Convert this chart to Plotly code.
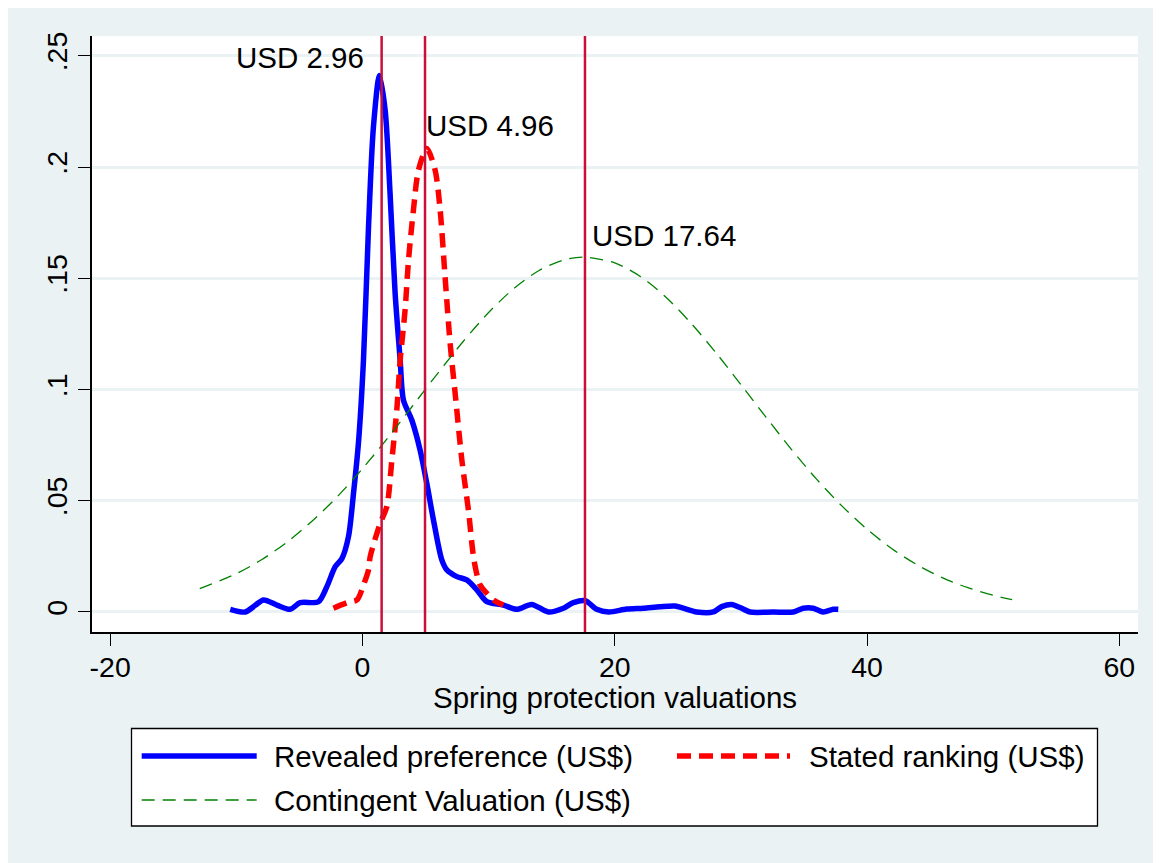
import plotly.graph_objects as go

# ---------------- data ----------------
revealed_x = [-10.48, -9.29, -8.5, -7.84, -6.78, -5.73, -4.94, -3.49, -2.82, -2.16, -1.63, -1.11,
              -0.71, -0.32, 0.08, 0.48, 0.87, 1.35, 1.80, 2.19, 2.59, 2.99, 3.25, 3.91, 4.57,
              5.10, 5.63, 6.29, 6.69, 7.48, 8.27, 9.07, 9.86, 11.17, 12.23, 13.42, 14.74, 15.93,
              16.72, 17.65, 18.57, 19.52, 20.95, 22.27, 23.59, 24.78, 25.44, 26.5, 27.81, 28.48,
              29.27, 29.93, 30.72, 32.57, 34.15, 34.94, 35.74, 36.53, 37.32, 37.72]
revealed_y = [0.0012, 0.0, 0.0030, 0.0054, 0.0031, 0.0012, 0.0042, 0.0046, 0.0114, 0.0204, 0.0240, 0.0338,
              0.0533, 0.0758, 0.1132, 0.1730, 0.2180, 0.2412, 0.2255, 0.1880, 0.1432, 0.1132, 0.0952, 0.0863, 0.0728,
              0.0578, 0.0413, 0.0234, 0.0189, 0.0159, 0.0144, 0.0099, 0.0046, 0.0031, 0.0012, 0.0034, 0.0, 0.0017,
              0.0042, 0.0051, 0.0012, 0.0, 0.0013, 0.0017, 0.0024, 0.0027, 0.0017, 0.0, 0.0, 0.0024,
              0.0034, 0.0020, 0.0, 0.0, 0.0, 0.0017, 0.0017, 0.0, 0.0012, 0.0012]

stated_x = [-2.30, -1.11, -0.44, 0.08, 0.48, 0.61, 1.40, 1.93, 2.33, 2.72, 2.99, 3.38, 3.65, 4.04,
            4.44, 5.10, 5.76, 6.16, 6.55, 6.95, 7.35, 7.88, 8.40, 8.85, 9.33, 9.86, 10.38, 11.17]
stated_y = [0.0017, 0.0044, 0.0054, 0.0121, 0.0189, 0.0248, 0.0398, 0.0473, 0.0683, 0.0907, 0.1132, 0.1357, 0.1581, 0.1806,
            0.1986, 0.2083, 0.1986, 0.1806, 0.1506, 0.1207, 0.0982, 0.0683, 0.0458, 0.0230, 0.0121, 0.0084, 0.0054, 0.0031]

contingent_x = [-12.9, -10, -8, -6, -4, -2, 0, 2, 4, 6, 8, 10, 12, 14, 16, 17.64, 20, 22, 24, 26,
                28, 30, 32, 34, 36, 38, 40, 42, 44, 46, 48, 50, 51.5]
contingent_y = [0.0105, 0.0172, 0.0235, 0.0313, 0.0408, 0.0518, 0.0644, 0.0782, 0.0928, 0.1075, 0.1217,
                0.1346, 0.1454, 0.1535, 0.1583, 0.1595, 0.1569, 0.1509, 0.1418, 0.1301, 0.1167, 0.1022,
                0.0875, 0.0731, 0.0597, 0.0477, 0.0372, 0.0283, 0.0211, 0.0153, 0.0109, 0.0075, 0.0056]

vline_x = [1.52, 4.96, 17.64]
label_text = ["USD 2.96", "USD 4.96", "USD 17.64"]
label_x = [0.3, 4.85, 18.05]
label_y = [0.2491, 0.2188, 0.1691]

x_ticks = [-20, 0, 20, 40, 60]
x_tick_labels = ["-20", "0", "20", "40", "60"]
y_ticks = [0, 0.05, 0.1, 0.15, 0.2, 0.25]
y_tick_labels = ["0", ".05", ".1", ".15", ".2", ".25"]

series_names = ["Revealed preference (US$)", "Stated ranking (US$)", "Contingent Valuation (US$)"]

# ---------------- styling ----------------
O = 8  # page body offset of the figure inside the window
W, H = 1161 - O, 863 - O
L, T = 92 - O, 36 - O
PR, PB = 1138 - O, 632 - O  # right / bottom edge of plot area in figure pixels
R, B = W - PR, H - PB
BG = "#EAF2F3"
FONT = "Liberation Sans, Arial, sans-serif"
FS = 29.5      # labels / legend / title
FS_TICK = 28.5
BLUE, RED, GREEN, VLINE = "#0000FF", "#FF0000", "#008000", "#C8103A"

fig = go.Figure()
fig.add_trace(go.Scatter(x=revealed_x, y=revealed_y, mode="lines", name=series_names[0],
                         line=dict(color=BLUE, width=5.5, shape="spline", smoothing=0.8)))
fig.add_trace(go.Scatter(x=stated_x, y=stated_y, mode="lines", name=series_names[1],
                         line=dict(color=RED, width=5.5, dash="14px,8px", shape="spline", smoothing=0.8)))
fig.add_trace(go.Scatter(x=contingent_x, y=contingent_y, mode="lines", name=series_names[2],
                         line=dict(color=GREEN, width=1.3, dash="13px,8px", shape="spline", smoothing=0.8)))

for vx in vline_x:
    fig.add_shape(type="line", xref="x", yref="paper", x0=vx, x1=vx, y0=0, y1=1,
                  line=dict(color=VLINE, width=2.5), layer="above")

anchors = ["right", "left", "left"]
for t, ax_, ay_, anc in zip(label_text, label_x, label_y, anchors):
    fig.add_annotation(x=ax_, y=ay_, xref="x", yref="y", text=t, showarrow=False,
                       xanchor=anc, yanchor="middle", font=dict(family=FONT, size=FS, color="black"))

# ---------------- manual legend and axis title (layout) ----------------
pw, ph = W - L - R, H - T - B
def px(xp):  # window pixel -> paper x
    return (xp - O - L) / pw
def py(yp):  # window pixel -> paper y
    return (PB - (yp - O)) / ph

fig.add_annotation(x=px(615), y=py(697), xref="paper", yref="paper", text="Spring protection valuations",
                   showarrow=False, xanchor="center", yanchor="middle",
                   font=dict(family=FONT, size=FS, color="black"))

fig.add_shape(type="rect", xref="paper", yref="paper", x0=px(131.5), x1=px(1097.5),
              y0=py(826), y1=py(728.5), line=dict(color="black", width=1.3), fillcolor="white", layer="above")
legend_items = [
    (series_names[0], BLUE, 5.5, "solid", 141.7, 256.7, 272.0, 756.0),
    (series_names[1], RED, 5.5, "14px,8px", 677.0, 790.0, 807.0, 756.0),
    (series_names[2], GREEN, 1.3, "13px,8px", 141.7, 256.7, 272.0, 800.0),
]
for name, col, lw, dsh, sx0, sx1, tx, yy in legend_items:
    fig.add_shape(type="line", xref="paper", yref="paper", x0=px(sx0), x1=px(sx1), y0=py(yy), y1=py(yy),
                  line=dict(color=col, width=lw, dash=dsh), layer="above")
    fig.add_annotation(x=px(tx), y=py(yy), xref="paper", yref="paper", text=name, showarrow=False,
                       xanchor="left", yanchor="middle", font=dict(family=FONT, size=FS, color="black"))

fig.update_layout(
    width=W, height=H, margin=dict(l=L, r=R, t=T, b=B),
    paper_bgcolor=BG, plot_bgcolor="white", showlegend=False,
    font=dict(family=FONT, size=FS, color="black"),
)
fig.update_xaxes(range=[-21.44, 61.48], tickvals=x_ticks, ticktext=x_tick_labels, showgrid=False, zeroline=False,
                 showline=True, linecolor="black", linewidth=1.5, ticks="outside", ticklen=12,
                 tickcolor="black", tickwidth=1.3, ticklabelstandoff=-3,
                 tickfont=dict(family=FONT, size=FS_TICK, color="black"))
fig.update_yaxes(range=[-0.009, 0.2589], tickvals=y_ticks, ticktext=y_tick_labels, tickangle=-90,
                 showgrid=True, gridcolor=BG, gridwidth=2.5, zeroline=False,
                 showline=True, linecolor="black", linewidth=1.5, ticks="outside", ticklen=12,
                 tickcolor="black", tickwidth=1.3, tickfont=dict(family=FONT, size=FS_TICK, color="black"))

fig.write_html("out.html")
